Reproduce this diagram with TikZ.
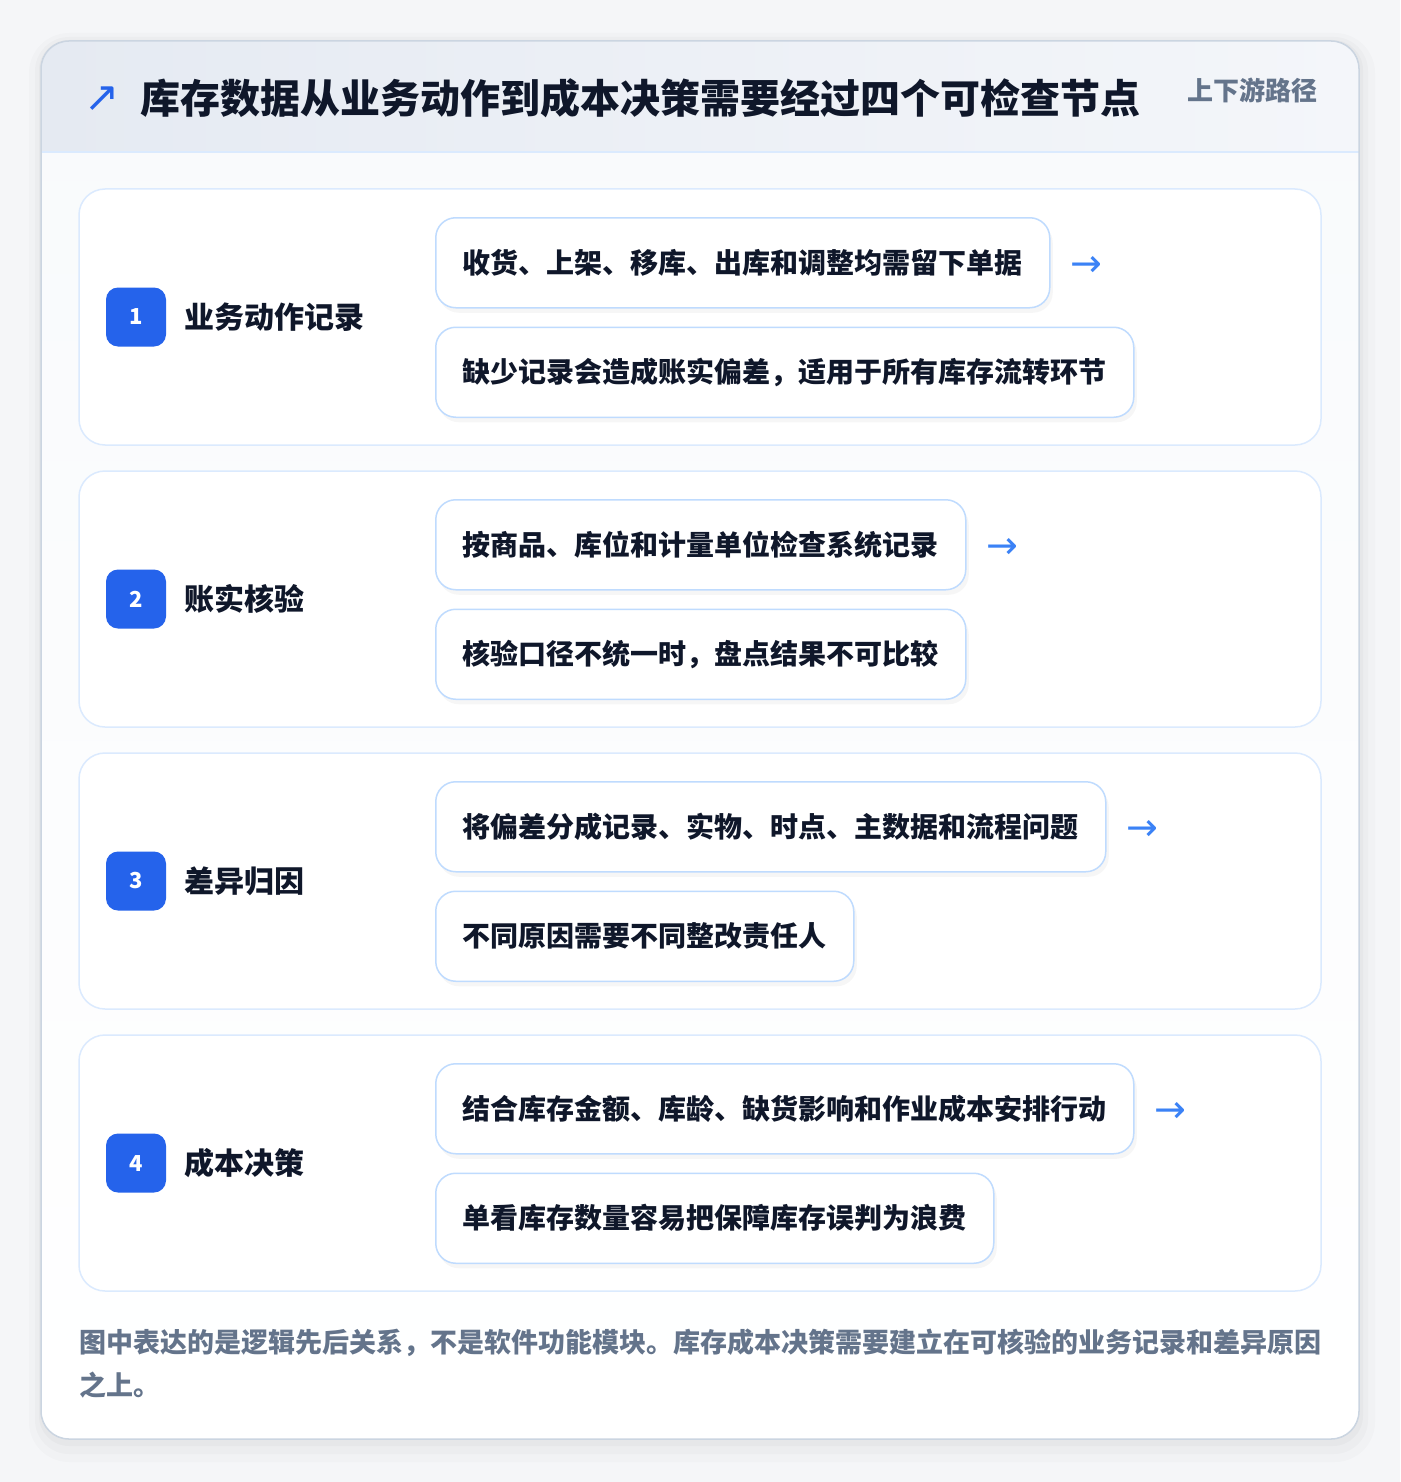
\documentclass[tikz,border=0pt]{standalone}
\usepackage{fontspec}
\setmainfont{Noto Sans CJK SC}
\newfontfamily\arrowfont{DejaVu Sans}
\usepackage{tikz}
\usetikzlibrary{positioning,shadows}
\definecolor{ink}{HTML}{0F172A}
\definecolor{slate}{HTML}{64748B}
\definecolor{brand}{HTML}{2563EB}
\definecolor{arrowblue}{HTML}{3B82F6}
\definecolor{rowline}{HTML}{DBEAFE}
\definecolor{itemline}{HTML}{BFDBFE}
\definecolor{cardline}{HTML}{CBD5E1}
\definecolor{pagebg}{HTML}{F5F6F8}
\definecolor{headl}{HTML}{E5EAF2}
\definecolor{headr}{HTML}{F4F6FA}
\definecolor{bodybg}{HTML}{F8FAFC}
\tikzset{x=1pt, y=-1pt,
    rowcard/.style={draw=rowline, line width=1.5pt, fill=white, rounded corners=26pt},
    badge/.style={fill=brand, rounded corners=12pt, minimum width=60pt, minimum height=59pt,
        inner sep=0pt, text=white, font=\bfseries\fontsize{22}{22}\selectfont},
    steplabel/.style={inner sep=0pt, text=ink, font=\bfseries\fontsize{30}{30}\selectfont},
    itembox/.style={draw=itemline, line width=1.5pt, fill=white, rounded corners=20pt,
        minimum height=90pt, inner xsep=27pt, inner ysep=0pt, text=ink,
        font=\bfseries\fontsize{28}{28}\selectfont,
        drop shadow={shadow xshift=3pt, shadow yshift=-5pt, opacity=0.035, fill=black}},
    flowarrow/.style={inner sep=0pt, text=arrowblue, font=\arrowfont\fontsize{38}{38}\selectfont},
    note/.style={anchor=west, inner sep=0pt, text=slate, font=\bfseries\fontsize{27}{27}\selectfont}}

\begin{document}
\begin{tikzpicture}
    \useasboundingbox (0,0) rectangle (1400,1482);
    \fill[pagebg] (0,0) rectangle (1400,1482);
    \fill[black, opacity=0.015, rounded corners=40pt] (29,33) rectangle (1375,1462);
    \fill[black, opacity=0.02, rounded corners=34pt] (35,37) rectangle (1368,1454);
    \fill[black, opacity=0.025, rounded corners=30pt] (39,40) rectangle (1363,1446);
    \fill[top color=bodybg, bottom color=white, rounded corners=28pt] (41,41) rectangle (1359,1439);
    \begin{scope}
        \clip[rounded corners=28pt] (41,41) rectangle (1359,1439);
        \fill[left color=headl, right color=headr] (41,41) rectangle (1359,152);
    \end{scope}
    \draw[rowline, line width=1.5pt] (41,152) -- (1359,152);
    \draw[cardline, line width=1.5pt, rounded corners=28pt] (41,41) rectangle (1359,1439);

    \node[text=brand, inner sep=0pt, font=\arrowfont\fontsize{42}{42}\selectfont] (icon) at (102,99) {↗};
    \node[anchor=west, inner sep=0pt, text=ink, font=\bfseries\fontsize{40}{40}\selectfont] (title) at (140,98)
        {库存数据从业务动作到成本决策需要经过四个可检查节点};
    \node[anchor=east, inner sep=0pt, text=slate, font=\bfseries\fontsize{26}{26}\selectfont] (tag) at (1318,90)
        {上下游路径};

    \draw[rowcard] (79,189) rectangle (1321,445);
    \node[badge] (b1) at (136,317) {1};
    \node[steplabel, right=18pt of b1] (s1) {业务动作记录};
    \node[itembox, anchor=north west] (it11) at (435,217) {收货、上架、移库、出库和调整均需留下单据};
    \node[itembox, below=18pt of it11.south west, anchor=north west] (it12) {缺少记录会造成账实偏差，适用于所有库存流转环节};
    \node[flowarrow, right=20pt of it11, yshift=-4pt] (ar1) {→};

    \draw[rowcard] (79,471) rectangle (1321,727);
    \node[badge] (b2) at (136,599) {2};
    \node[steplabel, right=18pt of b2] (s2) {账实核验};
    \node[itembox, anchor=north west] (it21) at (435,499) {按商品、库位和计量单位检查系统记录};
    \node[itembox, below=18pt of it21.south west, anchor=north west] (it22) {核验口径不统一时，盘点结果不可比较};
    \node[flowarrow, right=20pt of it21, yshift=-4pt] (ar2) {→};

    \draw[rowcard] (79,753) rectangle (1321,1009);
    \node[badge] (b3) at (136,881) {3};
    \node[steplabel, right=18pt of b3] (s3) {差异归因};
    \node[itembox, anchor=north west] (it31) at (435,781) {将偏差分成记录、实物、时点、主数据和流程问题};
    \node[itembox, below=18pt of it31.south west, anchor=north west] (it32) {不同原因需要不同整改责任人};
    \node[flowarrow, right=20pt of it31, yshift=-4pt] (ar3) {→};

    \draw[rowcard] (79,1035) rectangle (1321,1291);
    \node[badge] (b4) at (136,1163) {4};
    \node[steplabel, right=18pt of b4] (s4) {成本决策};
    \node[itembox, anchor=north west] (it41) at (435,1063) {结合库存金额、库龄、缺货影响和作业成本安排行动};
    \node[itembox, below=18pt of it41.south west, anchor=north west] (it42) {单看库存数量容易把保障库存误判为浪费};
    \node[flowarrow, right=20pt of it41, yshift=-4pt] (ar4) {→};

    \node[note] (n1) at (79,1343) {图中表达的是逻辑先后关系，不是软件功能模块。库存成本决策需要建立在可核验的业务记录和差异原因};
    \node[note] (n2) at (79,1385) {之上。};
\end{tikzpicture}
\end{document}
